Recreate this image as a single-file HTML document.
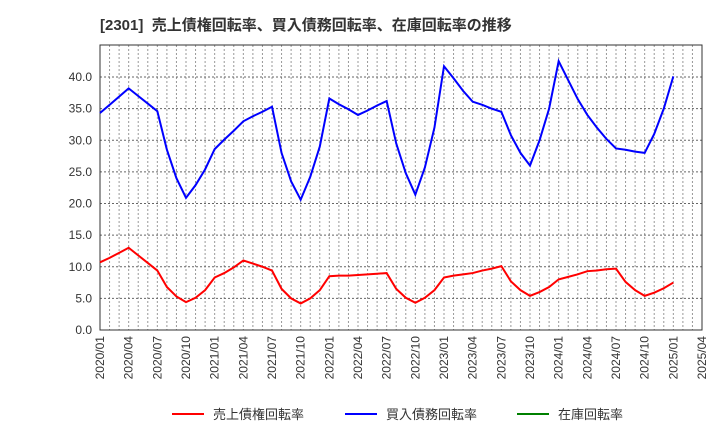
<!DOCTYPE html>
<html><head><meta charset="utf-8"><style>
body{margin:0;background:#fff;font-family:"Liberation Sans","Noto Sans CJK JP",sans-serif;}
</style></head><body>
<svg id="chart" width="720" height="440" xmlns="http://www.w3.org/2000/svg">
<text x="100" y="30" font-size="15" font-weight="bold" fill="#333" font-family="Liberation Sans, Noto Sans CJK JP, sans-serif">[2301]&#160;&#160;売上債権回転率、買入債務回転率、在庫回転率の推移</text>
<g id="grid"></g><g id="axes"></g><g id="series"></g>
<g font-size="13" fill="#333" font-family="Liberation Sans, Noto Sans CJK JP, sans-serif">
<line x1="172" y1="414" x2="204" y2="414" stroke="#ff0000" stroke-width="2"/><text x="213" y="419">売上債権回転率</text>
<line x1="345" y1="414" x2="377" y2="414" stroke="#0000ff" stroke-width="2"/><text x="386" y="419">買入債務回転率</text>
<line x1="517" y1="414" x2="549" y2="414" stroke="#008000" stroke-width="2"/><text x="558" y="419">在庫回転率</text>
</g>
</svg>
<script>
const xLabels=["2020/01","2020/04","2020/07","2020/10","2021/01","2021/04","2021/07","2021/10","2022/01","2022/04","2022/07","2022/10","2023/01","2023/04","2023/07","2023/10","2024/01","2024/04","2024/07","2024/10","2025/01","2025/04"];
const yTicks=[0,5,10,15,20,25,30,35,40];
const payables=[34.3,35.6,36.9,38.2,37.0,35.8,34.6,28.5,24.0,20.9,22.9,25.4,28.6,30.1,31.5,33.0,33.8,34.5,35.3,28.0,23.5,20.6,24.2,29.0,36.6,35.7,34.9,34.0,34.7,35.5,36.2,29.5,24.8,21.4,25.7,32.0,41.7,39.8,37.8,36.1,35.6,35.0,34.5,30.8,28.0,26.0,30.0,35.0,42.5,39.5,36.5,34.0,32.0,30.2,28.7,28.5,28.2,28.0,31.0,35.0,40.1];
const receivables=[10.7,11.4,12.2,13.0,11.8,10.6,9.4,6.8,5.3,4.4,5.1,6.3,8.3,9.0,9.9,11.0,10.5,10.0,9.4,6.5,5.0,4.2,5.0,6.3,8.5,8.6,8.6,8.7,8.8,8.9,9.0,6.5,5.1,4.3,5.1,6.3,8.3,8.6,8.8,9.0,9.4,9.7,10.1,7.7,6.3,5.4,6.0,6.8,8.0,8.4,8.8,9.3,9.4,9.6,9.7,7.6,6.3,5.4,5.9,6.6,7.5];
const inventory=[];
const NS="http://www.w3.org/2000/svg";
const L=100,R=702,T=45,B=330,months=63;
const xs=i=>L+i*(R-L)/months;
const ys=v=>B-v*(B-77)/40;
const grid=document.getElementById('grid'),axes=document.getElementById('axes'),ser=document.getElementById('series');
function mk(tag,at,parent){const e=document.createElementNS(NS,tag);for(const k in at)e.setAttribute(k,at[k]);parent.appendChild(e);return e;}
for(let m=1;m<months;m++){
 const l=mk('line',{x1:xs(m),x2:xs(m),y1:T,y2:B,stroke:'#999','stroke-dasharray':'2,2','stroke-width':1},grid);
 
 
}
yTicks.forEach(v=>{
 if(v>0){const l=mk('line',{x1:L,x2:R,y1:ys(v),y2:ys(v),stroke:'#666','stroke-dasharray':'2,2','stroke-width':1},grid);
 
 }
 const t=mk('text',{x:L-8,y:ys(v)+4,'text-anchor':'end','font-size':12,fill:'#333'},axes);
 t.textContent=v.toFixed(1);
 
 
});
xLabels.forEach((s,i)=>{
 const x=xs(i*3);
 const t=mk('text',{x:x+4,y:B+6,'text-anchor':'end','font-size':12,fill:'#333',transform:`rotate(-90 ${x+4} ${B+6})`},axes);
 t.textContent=s;
 
 
});
const frame=mk('rect',{x:L,y:T,width:R-L,height:B-T,fill:'none',stroke:'#333','stroke-width':1},axes);


function line(data,color,name){
 if(!data.length)return;
 const p=mk('polyline',{points:data.map((v,i)=>xs(i)+','+ys(v)).join(' '),fill:'none',stroke:color,'stroke-width':2},ser);
 
 
}
line(payables,'#0000ff','payables-turnover-line');
line(receivables,'#ff0000','receivables-turnover-line');
line(inventory,'#008000','inventory-turnover-line');
</script>
</body></html>
